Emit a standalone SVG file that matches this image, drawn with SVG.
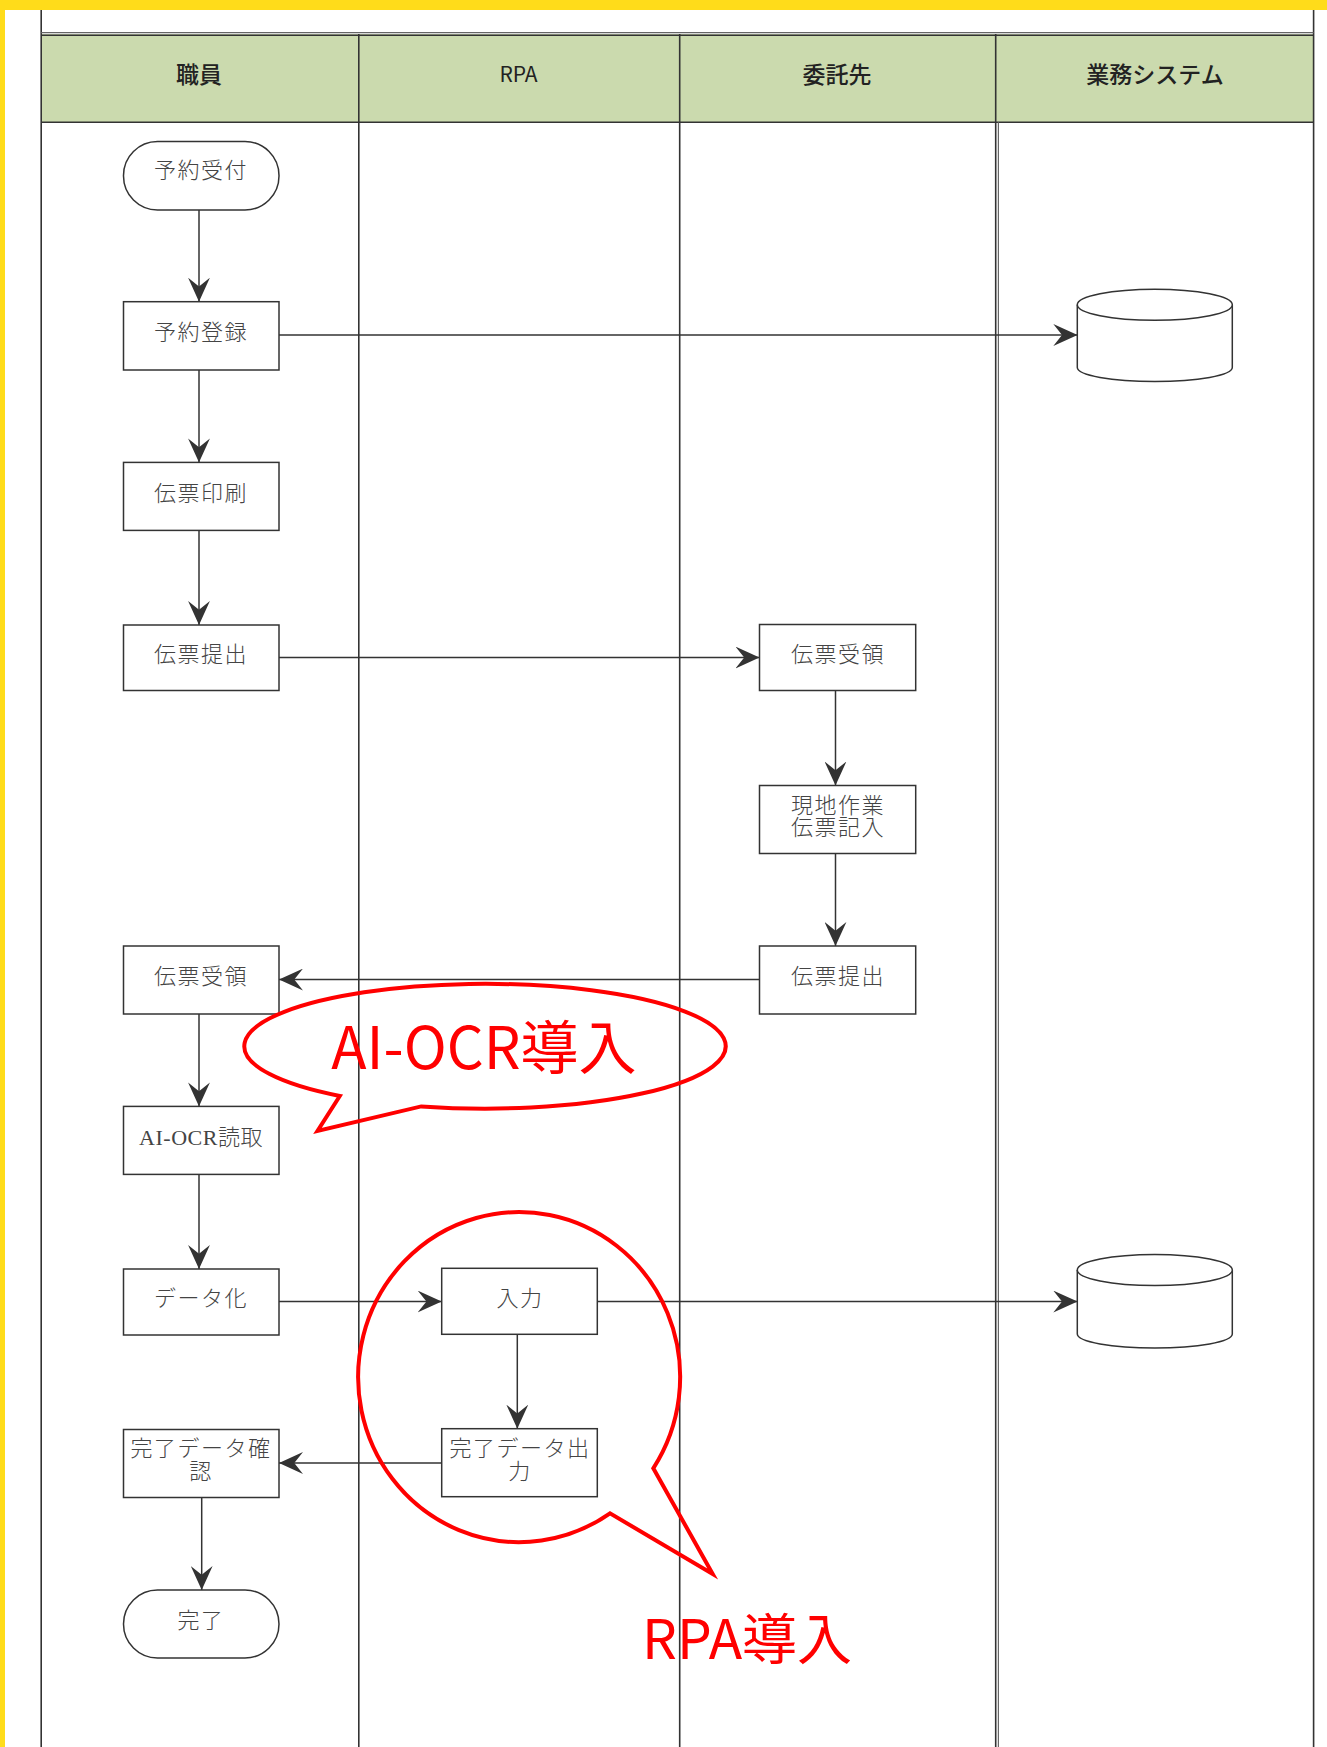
<svg xmlns="http://www.w3.org/2000/svg" width="1327" height="1747" viewBox="0 0 1327 1747">
<style>
.lane{stroke:#333;stroke-width:1.6;fill:none}
.dbl{stroke:#666;stroke-width:1.2;fill:none}
.hdr{fill:#cbdaae}
.htxt{font-family:"Noto Sans CJK JP","Noto Sans",sans-serif;font-size:23px;font-weight:500;fill:#222;text-anchor:middle}
.box{fill:#fff;stroke:#333;stroke-width:1.5}
.ntxt{font-family:"Liberation Serif","Noto Sans CJK JP",serif;font-size:22px;font-weight:300;fill:#444;text-anchor:middle;letter-spacing:1.5px}
.conn{stroke:#333;stroke-width:1.5;fill:none;marker-end:url(#ah)}
.callout{fill:none;stroke:#ff0000;stroke-width:4;stroke-linejoin:miter}
.ctxt{font-family:"Noto Sans CJK JP","Noto Sans",sans-serif;fill:#ff0000}
</style>
<defs>
<marker id="ah" markerUnits="userSpaceOnUse" markerWidth="24" markerHeight="22" viewBox="0 0 22 20" refX="22" refY="10" orient="auto">
<path d="M0,0 L22,10 L0,20 L8,10 Z" fill="#333"/>
</marker>
</defs>
<rect x="0" y="0" width="1327" height="1747" fill="#fff"/>
<rect x="0" y="0" width="1327" height="10" fill="#ffdc1a"/>
<rect x="0" y="0" width="5" height="1747" fill="#ffdc1a"/>
<g id="lanes">
<line class="lane" x1="41.2" y1="10" x2="41.2" y2="34"/>
<line class="lane" x1="1313.6" y1="10" x2="1313.6" y2="34"/>
<rect class="hdr" x="41.2" y="34" width="1272.4" height="88.3"/>
<line class="dbl" x1="41.2" y1="32.6" x2="1313.6" y2="32.6"/>
<line class="lane" x1="41.2" y1="35.2" x2="1313.6" y2="35.2"/>
<line class="lane" x1="41.2" y1="122.3" x2="1313.6" y2="122.3"/>
<line class="lane" x1="41.2" y1="34" x2="41.2" y2="1747"/>
<line class="lane" x1="358.8" y1="34" x2="358.8" y2="1747"/>
<line class="lane" x1="679.7" y1="34" x2="679.7" y2="1747"/>
<line class="lane" x1="995.7" y1="34" x2="995.7" y2="1747"/>
<line class="dbl" x1="998.4" y1="122.3" x2="998.4" y2="1747"/>
<line class="lane" x1="1313.6" y1="34" x2="1313.6" y2="1747"/>
<text class="htxt" x="199" y="83">職員</text>
<text class="htxt" x="518.5" y="82" style="font-size:21px;font-weight:400">RPA</text>
<text class="htxt" x="837" y="83">委託先</text>
<text class="htxt" x="1155" y="83">業務システム</text>
</g>
<g id="connectors">
<line class="conn" x1="199" y1="210" x2="199" y2="301.7"/>
<line class="conn" x1="279" y1="335" x2="1077.3" y2="335"/>
<line class="conn" x1="199" y1="370" x2="199" y2="462.4"/>
<line class="conn" x1="199" y1="530.4" x2="199" y2="625"/>
<line class="conn" x1="279" y1="657.5" x2="759.5" y2="657.5"/>
<line class="conn" x1="835.5" y1="690.5" x2="835.5" y2="785.5"/>
<line class="conn" x1="835.5" y1="853.5" x2="835.5" y2="946"/>
<line class="conn" x1="759.5" y1="979.5" x2="279" y2="979.5"/>
<line class="conn" x1="199" y1="1014" x2="199" y2="1106.4"/>
<line class="conn" x1="199" y1="1174.4" x2="199" y2="1269"/>
<line class="conn" x1="279" y1="1301.5" x2="441.7" y2="1301.5"/>
<line class="conn" x1="597.3" y1="1301.5" x2="1077.3" y2="1301.5"/>
<line class="conn" x1="517.3" y1="1334.3" x2="517.3" y2="1428.7"/>
<line class="conn" x1="441.7" y1="1463" x2="279" y2="1463"/>
<line class="conn" x1="201.7" y1="1497.5" x2="201.7" y2="1590"/>
</g>
<g id="n-yoyakuuketsuke">
<rect class="box" x="123.5" y="141.5" width="155.5" height="68.5" rx="34" ry="34"/>
<text class="ntxt" x="201" y="178">予約受付</text>
</g>
<g id="n-yoyakutouroku">
<rect class="box" x="123.5" y="301.7" width="155.5" height="68.3"/>
<text class="ntxt" x="201" y="340">予約登録</text>
</g>
<g id="n-denpyouinsatsu">
<rect class="box" x="123.5" y="462.4" width="155.5" height="68"/>
<text class="ntxt" x="201" y="500.5">伝票印刷</text>
</g>
<g id="n-denpyouteishutsu1">
<rect class="box" x="123.5" y="625" width="155.5" height="65.5"/>
<text class="ntxt" x="201" y="661.5">伝票提出</text>
</g>
<g id="n-denpyoujuryou1">
<rect class="box" x="759.5" y="624.5" width="156.2" height="66"/>
<text class="ntxt" x="838" y="661.5">伝票受領</text>
</g>
<g id="n-genchisagyou">
<rect class="box" x="759.5" y="785.5" width="156.2" height="68"/>
<text class="ntxt" x="838" y="812.5">現地作業</text>
<text class="ntxt" x="838" y="835">伝票記入</text>
</g>
<g id="n-denpyouteishutsu2">
<rect class="box" x="759.5" y="946" width="156.2" height="68"/>
<text class="ntxt" x="838" y="984">伝票提出</text>
</g>
<g id="n-denpyoujuryou2">
<rect class="box" x="123.5" y="946" width="155.5" height="68"/>
<text class="ntxt" x="201" y="984">伝票受領</text>
</g>
<g id="n-aiocr">
<rect class="box" x="123.5" y="1106.4" width="155.5" height="68"/>
<text class="ntxt" x="201" y="1145" style="letter-spacing:0.5px">AI-OCR読取</text>
</g>
<g id="n-dataka">
<rect class="box" x="123.5" y="1269" width="155.5" height="66"/>
<text class="ntxt" x="201" y="1306">データ化</text>
</g>
<g id="n-nyuuryoku">
<rect class="box" x="441.7" y="1268.3" width="155.6" height="66"/>
<text class="ntxt" x="520" y="1306">入力</text>
</g>
<g id="n-kanryoushutsuryoku">
<rect class="box" x="441.7" y="1428.7" width="155.6" height="68"/>
<text class="ntxt" x="520" y="1456">完了データ出</text>
<text class="ntxt" x="520" y="1479">力</text>
</g>
<g id="n-kanryoukakunin">
<rect class="box" x="123.5" y="1429.5" width="155.5" height="68"/>
<text class="ntxt" x="201" y="1456">完了データ確</text>
<text class="ntxt" x="201" y="1479">認</text>
</g>
<g id="n-kanryou">
<rect class="box" x="123.5" y="1590" width="155.5" height="68" rx="34" ry="34"/>
<text class="ntxt" x="201" y="1628">完了</text>
</g>
<g id="db1">
<path class="box" d="M1077.3,304.8 L1077.3,367.5 A77.5,14 0 0 0 1232.3,367.5 L1232.3,304.8"/>
<ellipse class="box" cx="1154.8" cy="304.8" rx="77.5" ry="15.5"/>
</g>
<g id="db2">
<path class="box" d="M1077.3,1270 L1077.3,1334 A77.5,14 0 0 0 1232.3,1334 L1232.3,1270"/>
<ellipse class="box" cx="1154.8" cy="1270" rx="77.5" ry="15.5"/>
</g>
<g id="callout-aiocr">
<path class="callout" d="M339.8,1096 L317.5,1131 L421.2,1106.4 A240.7,62.4 0 1 0 339.8,1096 Z"/>
<text class="ctxt" x="484" y="1069" font-size="58" text-anchor="middle">AI-OCR導入</text>
</g>
<g id="callout-rpa">
<path class="callout" d="M653.3,1468.3 L712.7,1574 L610,1513.3 A161,165 0 1 1 653.3,1468.3 Z"/>
<text class="ctxt" x="642" y="1659" font-size="55">RPA導入</text>
</g>
</svg>
